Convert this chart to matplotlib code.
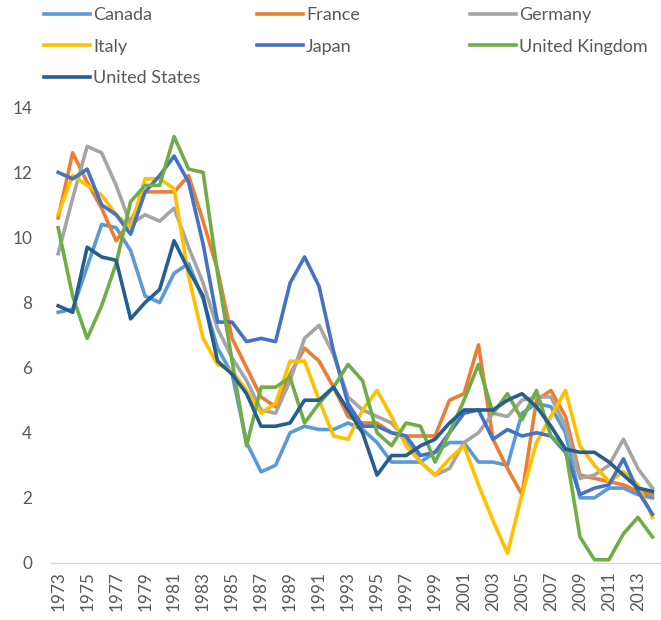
import matplotlib
matplotlib.use("Agg")
import matplotlib.pyplot as plt
import numpy as np

plt.rcParams['font.family'] = ['Lato', 'DejaVu Sans']

years = list(range(1973, 2015))

canada = [7.7, 7.8, 9.1, 10.4, 10.3, 9.6, 8.2, 8.0, 8.9, 9.2,
          8.1, 6.6, 5.8, 3.7, 2.8, 3.0, 4.0, 4.2, 4.1, 4.1,
          4.3, 4.1, 3.7, 3.1, 3.1, 3.1, 3.4, 3.7, 3.7, 3.1,
          3.1, 3.0, 4.6, 4.9, 4.8, 4.0, 2.0, 2.0, 2.3, 2.3,
          2.1, 2.0]
france = [10.6, 12.6, 11.7, 10.9, 9.9, 10.5, 11.4, 11.4, 11.4, 11.9,
          10.5, 9.0, 6.9, 6.0, 5.1, 4.8, 5.8, 6.6, 6.2, 5.4,
          4.5, 4.3, 4.3, 4.0, 3.9, 3.9, 3.9, 5.0, 5.2, 6.7,
          3.8, 2.9, 2.1, 5.0, 5.3, 4.5, 2.7, 2.6, 2.5, 2.4,
          2.2, 2.1]
germany = [9.5, 11.2, 12.8, 12.6, 11.6, 10.4, 10.7, 10.5, 10.9, 9.7,
           8.6, 7.2, 6.3, 5.6, 4.7, 4.6, 5.6, 6.9, 7.3, 6.4,
           5.1, 4.7, 4.5, 4.3, 3.8, 3.1, 2.7, 2.9, 3.7, 4.0,
           4.6, 4.5, 5.0, 5.1, 5.1, 4.2, 2.6, 2.7, 3.0, 3.8,
           2.9, 2.3]
italy = [10.7, 11.9, 11.6, 11.3, 10.7, 10.3, 11.8, 11.8, 11.5, 8.8,
         6.9, 6.1, 5.9, 5.3, 4.6, 4.9, 6.2, 6.2, 5.0, 3.9,
         3.8, 4.7, 5.3, 4.5, 3.6, 3.1, 2.7, 3.2, 3.6, 2.4,
         1.3, 0.3, 2.1, 3.7, 4.5, 5.3, 3.6, 3.0, 2.5, 2.8,
         2.4, 1.4]
japan = [12.0, 11.8, 12.1, 11.0, 10.7, 10.1, 11.4, 11.9, 12.5, 11.7,
         9.8, 7.4, 7.4, 6.8, 6.9, 6.8, 8.6, 9.4, 8.5, 6.5,
         4.9, 4.2, 4.2, 4.0, 3.9, 3.3, 3.4, 4.0, 4.6, 4.7,
         3.8, 4.1, 3.9, 4.0, 3.9, 3.4, 2.1, 2.3, 2.4, 3.2,
         2.2, 1.5]
uk = [10.3, 8.2, 6.9, 7.9, 9.2, 11.1, 11.6, 11.6, 13.1, 12.1,
      12.0, 8.9, 6.2, 3.6, 5.4, 5.4, 5.7, 4.3, 4.9, 5.4,
      6.1, 5.6, 4.0, 3.6, 4.3, 4.2, 3.1, 4.0, 5.0, 6.1,
      4.6, 5.2, 4.4, 5.3, 3.9, 3.5, 0.8, 0.1, 0.1, 0.9,
      1.4, 0.8]
us = [7.9, 7.7, 9.7, 9.4, 9.3, 7.5, 8.0, 8.4, 9.9, 9.0,
      8.2, 6.2, 5.8, 5.2, 4.2, 4.2, 4.3, 5.0, 5.0, 5.4,
      4.7, 4.0, 2.7, 3.3, 3.3, 3.6, 3.8, 4.3, 4.7, 4.7,
      4.7, 5.0, 5.2, 4.8, 4.2, 3.5, 3.4, 3.4, 3.1, 2.7,
      2.3, 2.2]

series = [
    ("Canada", canada, "#5B9BD5"),
    ("France", france, "#ED7D31"),
    ("Germany", germany, "#A5A5A5"),
    ("Italy", italy, "#FFC000"),
    ("Japan", japan, "#4472C4"),
    ("United Kingdom", uk, "#70AD47"),
    ("United States", us, "#255E91"),
]

fig = plt.figure(figsize=(6.61, 6.2), dpi=100)
ax = fig.add_axes([0.077, 0.092, 0.921, 0.735])

x = np.arange(len(years))
handles = {}
for name, vals, col in series:
    h, = ax.plot(x, vals, color=col, lw=2.6, solid_joinstyle='round', label=name)
    handles[name] = h

ax.set_xlim(-0.5, len(years) - 0.5)
ax.set_ylim(0, 14)
ax.set_yticks(np.arange(0, 15, 2))
ax.set_xticks(x[::2])
ax.set_xticklabels([str(y) for y in years[::2]], rotation=90)
for s in ['top', 'right', 'left']:
    ax.spines[s].set_visible(False)
ax.spines['bottom'].set_color('#D9D9D9')
ax.spines['bottom'].set_linewidth(1.0)
ax.tick_params(axis='both', length=0, colors='#595959', labelsize=12.3)
ax.tick_params(axis='y', pad=13.5)
ax.tick_params(axis='x', pad=6)

cols = [["Canada", "Italy", "United States"], ["France", "Japan"], ["Germany", "United Kingdom"]]
lefts = [44 / 661, 257 / 661, 470 / 661]
for names, lx in zip(cols, lefts):
    leg = fig.legend([handles[n] for n in names], names, loc='upper left',
                     bbox_to_anchor=(lx, 0.988), frameon=False, fontsize=13,
                     handlelength=2.55, handletextpad=0.17, labelspacing=0.85,
                     borderaxespad=0, borderpad=0)
    for t in leg.get_texts():
        t.set_color('#595959')

fig.savefig("out.png", dpi=100)
